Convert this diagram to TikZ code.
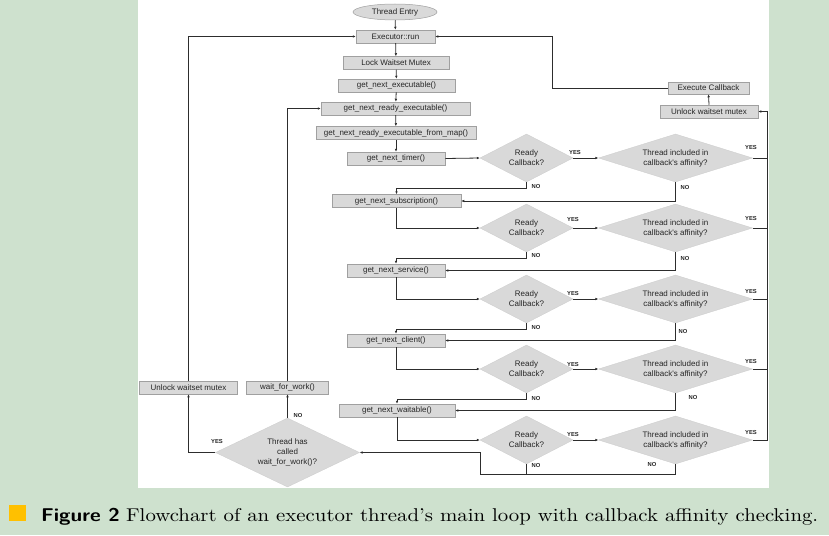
\documentclass[tikz,border=0pt]{standalone}
\usepackage{fontspec}
\usepackage{graphicx}
\newfontfamily\af{Liberation Sans}
\newfontfamily\lmten{lmroman10-regular.otf}
\usetikzlibrary{shapes.geometric,arrows.meta,calc}
\definecolor{bggreen}{RGB}{206,225,206}
\definecolor{boxfill}{RGB}{217,217,217}
\definecolor{boxline}{RGB}{160,160,160}
\definecolor{capor}{RGB}{255,192,0}
\definecolor{ln}{RGB}{45,45,45}
\tikzset{
  box/.style={draw=boxline, line width=0.5pt, fill=boxfill, minimum height=13pt, inner sep=0pt, font=\af\fontsize{8}{10}\selectfont, text=black!85},
  dia/.style={shape=diamond, draw=black!20, line width=0.3pt, fill=boxfill, inner sep=0pt, align=center, font=\af\fontsize{8}{10}\selectfont, text=black!85},
  rcd/.style={dia, aspect=2, minimum width=93pt, minimum height=48pt},
  tid/.style={dia, aspect=3.2, minimum width=154pt, minimum height=48pt},
  lab/.style={font=\af\bfseries\fontsize{5.8}{6}\selectfont, inner sep=0pt, text=black!85},
  arr/.style={draw=ln, line width=0.8pt, -{Latex[length=3pt,width=2.6pt]}},
  ln/.style={draw=ln, line width=0.8pt},
}
\begin{document}
\begin{tikzpicture}[x=1pt,y=-1pt]
\useasboundingbox (0,0) rectangle (829,535);
\fill[bggreen] (0,0) rectangle (829,535);
\fill[white] (138,0) rectangle (769,488);
% nodes
\node[ellipse, draw=boxline, line width=0.5pt, fill=boxfill, minimum width=84pt, minimum height=16pt, inner sep=0pt, font=\af\fontsize{8}{10}\selectfont, text=black!85] (entry) at (395,12) {Thread Entry};
\node[box, minimum width=79pt] (run) at (395.5,36.5) {Executor::run};
\node[box, minimum width=106pt] (lock) at (396,63) {Lock Waitset Mutex};
\node[box, minimum width=117pt] (exe) at (396.5,85.5) {get\_next\_executable()};
\node[box, minimum width=149pt] (rdy) at (395.5,108.5) {get\_next\_ready\_executable()};
\node[box, minimum width=160pt] (map) at (396,133) {get\_next\_ready\_executable\_from\_map()};
\node[box, minimum width=98pt] (tim) at (396,158.5) {get\_next\_timer()};
\node[box, minimum width=129pt] (sub) at (396.5,201) {get\_next\_subscription()};
\node[box, minimum width=98pt] (srv) at (396,270.5) {get\_next\_service()};
\node[box, minimum width=98pt] (cli) at (396,340.5) {get\_next\_client()};
\node[box, minimum width=116pt] (wai) at (397,410.5) {get\_next\_waitable()};
\node[box, minimum width=98pt] (unl) at (709,111.5) {Unlock waitset mutex};
\node[box, minimum width=81pt, minimum height=12pt] (exc) at (708.5,88) {Execute Callback};
\node[box, minimum width=98pt] (unlL) at (188.5,387.5) {Unlock waitset mutex};
\node[box, minimum width=82pt] (wfw) at (287.5,387.5) {wait\_for\_work()};
\node[dia, aspect=2, minimum width=144pt, minimum height=69pt] (wd) at (287.5,452.5) {Thread has\\called\\wait\_for\_work()?};
\foreach \i/\y in {1/158,2/228,3/299,4/369,5/440}{
  \node[rcd] (rc\i) at (526.5,\y) {Ready\\Callback?};
  \node[tid] (ti\i) at (675.5,\y) {Thread included in\\callback's affinity?};
}
\coordinate (busTop) at (767.5,111.5);
\coordinate (rtop) at (552,36.5);
\coordinate (lowL) at (480,474);
% main column
\draw[arr] (entry) -- (run);
\draw[arr] (run) -- (lock);
\draw[arr] (lock) -- (exe);
\draw[arr] (exe) -- (rdy);
\draw[arr] (rdy) -- (map);
\draw[arr] (map) -- (tim);
% row entries
\draw[arr] (tim.east) -- (rc1.west);
\draw[arr] (sub.south) |- (rc2.west);
\draw[arr] (srv.south) |- (rc3.west);
\draw[arr] (cli.south) |- (rc4.west);
\draw[arr] (wai.south) |- (rc5.west);
% yes connections
\foreach \i in {1,...,5}{
  \draw[arr] (rc\i.east) -- (ti\i.west);
}
\foreach \i in {1,...,4}{
  \draw[ln] (ti\i.east) -- (busTop |- ti\i.east);
}
\draw[arr] (ti5.east) -| (busTop) -- (unl.east);
\draw[arr] (unl.north) -- (exc.south);
\draw[arr] (exc.west) -| (rtop) -- (run.east);
% no connections
\draw[arr] (rc1.south) -- ++(0,6) -| (sub.north);
\draw[arr] (ti1.south) |- (sub.east);
\draw[arr] (rc2.south) -- ++(0,6) -| (srv.north);
\draw[arr] (ti2.south) |- (srv.east);
\draw[arr] (rc3.south) -- ++(0,6) -| (cli.north);
\draw[arr] (ti3.south) |- (cli.east);
\draw[arr] (rc4.south) -- ++(0,6) -| (wai.north);
\draw[arr] (ti4.south) |- (wai.east);
\draw[arr] (rc5.south) |- (lowL) |- (wd.east);
\draw[ln] (ti5.south) |- (rc5.south |- lowL);
% wait decision
\draw[arr] (wd.north) -- (wfw.south);
\draw[arr] (wd.west) -| (unlL.south);
\draw[arr] (unlL.north) |- (run.west);
\draw[arr] (wfw.north) |- (rdy.west);
% labels
\node[lab] (y1a) at (575,153) {YES};
\node[lab] (y1b) at (751,148) {YES};
\node[lab] (y2a) at (573,220) {YES};
\node[lab] (y2b) at (751,219) {YES};
\node[lab] (y3a) at (573,293) {YES};
\node[lab] (y3b) at (751,291) {YES};
\node[lab] (y4a) at (573,364) {YES};
\node[lab] (y4b) at (751,361) {YES};
\node[lab] (y5a) at (573,434) {YES};
\node[lab] (y5b) at (751,432) {YES};
\node[lab] (n1a) at (536,187) {NO};
\node[lab] (n1b) at (685,188) {NO};
\node[lab] (n2a) at (536,256) {NO};
\node[lab] (n2b) at (685,258) {NO};
\node[lab] (n3a) at (536,327) {NO};
\node[lab] (n3b) at (683,331) {NO};
\node[lab] (n4a) at (536,398) {NO};
\node[lab] (n4b) at (693,397) {NO};
\node[lab] (n5a) at (536,465) {NO};
\node[lab] (n5b) at (652,464) {NO};
\node[lab] (wyes) at (217,441) {YES};
\node[lab] (wno) at (298,415) {NO};
% caption
\fill[capor] (9,505) rectangle (26,521);
\node[anchor=base west, inner sep=0pt, font=\fontsize{18.5}{22}\selectfont] (cap) at (41,521.5) {\resizebox{777pt}{\height}{{\sffamily\bfseries Figure 2} {\lmten Flowchart of an executor thread’s main loop with callback affinity checking.}}};
\end{tikzpicture}
\end{document}
